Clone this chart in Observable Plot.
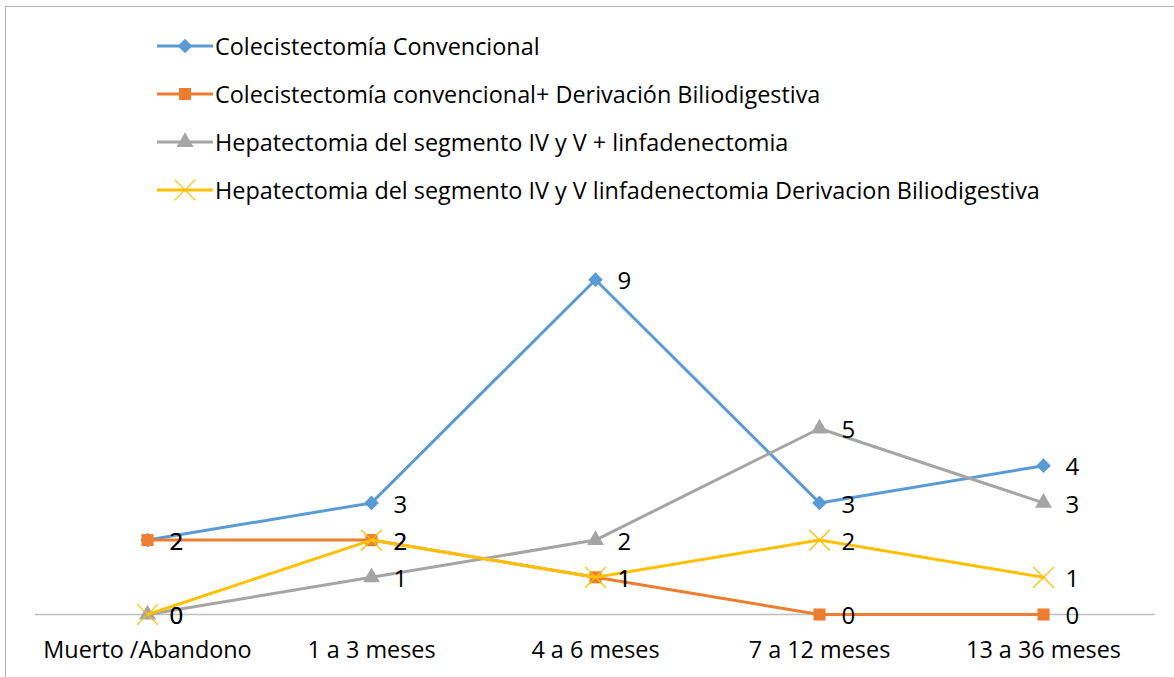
<!DOCTYPE html>
<html>
<head>
<meta charset="utf-8">
<script src="https://cdn.jsdelivr.net/npm/d3@7"></script>
<script src="https://cdn.jsdelivr.net/npm/@observablehq/plot@0.6"></script>
<style>
  html, body { margin: 0; padding: 0; background: #fff; width: 1174px; height: 677px; overflow: hidden; }
  #frame { position: absolute; left: 5px; top: 6px; width: 1200px; height: 700px; border: 1.5px solid #b4b4b4; box-sizing: border-box; }
  #legend { position: absolute; left: 157px; top: 30px; font-family: "Open Sans", Lato, sans-serif; font-size: 23.4px; color: #000; }
  .row { position: absolute; left: 0; height: 32px; display: flex; align-items: center; white-space: nowrap; }
  .row svg { display: block; margin-right: 2px; }
  #chart { position: absolute; left: 0; top: 220px; }
</style>
</head>
<body>
<div id="frame"></div>
<div id="legend"></div>
<div id="chart"></div>
<script>
const categories = ["Muerto /Abandono", "1 a 3 meses", "4 a 6 meses", "7 a 12 meses", "13 a 36 meses"];
const seriesNames = [
  "Colecistectomía Convencional",
  "Colecistectomía convencional+ Derivación Biliodigestiva",
  "Hepatectomia del segmento IV y V + linfadenectomia",
  "Hepatectomia del segmento IV y V linfadenectomia Derivacion Biliodigestiva"
];
const convencional = [2, 3, 9, 3, 4];
const convencionalDerivacion = [2, 2, 1, 0, 0];
const hepatectomiaLinf = [0, 1, 2, 5, 3];
const hepatectomiaDerivacion = [0, 2, 1, 2, 1];

const colors = ["#5B9BD5", "#ED7D31", "#A5A5A5", "#FFC000"];
const symbols = ["diamond2", "square", "triangle", "times"];
const radii = [6.6, 6.8, 6.3, 9.5];
const allValues = [convencional, convencionalDerivacion, hepatectomiaLinf, hepatectomiaDerivacion];

const series = seriesNames.map((name, i) => ({
  name, color: colors[i], symbol: symbols[i], r: radii[i],
  data: categories.map((c, j) => ({cat: c, value: allValues[i][j], series: name}))
}));

// Legend (HTML)
const legend = document.getElementById("legend");
const d3sym = {diamond2: d3.symbolDiamond2, square: d3.symbolSquare, triangle: d3.symbolTriangle, times: d3.symbolTimes};
series.forEach((s, i) => {
  const row = document.createElement("div");
  row.className = "row";
  row.style.top = (i * 48) + "px";
  const sw = d3.create("svg").attr("width", 56).attr("height", 32);
  sw.append("line").attr("x1", 0).attr("x2", 56).attr("y1", 16).attr("y2", 16)
    .attr("stroke", s.color).attr("stroke-width", 3);
  const p = sw.append("path").attr("d", d3.symbol(d3sym[s.symbol], Math.PI * s.r * s.r)()).attr("transform", "translate(28,16)");
  if (s.symbol === "times") p.attr("fill", "none").attr("stroke", s.color).attr("stroke-width", 1.3);
  else p.attr("fill", s.color);
  row.appendChild(sw.node());
  const t = document.createElement("span");
  t.textContent = s.name;
  row.appendChild(t);
  legend.appendChild(row);
});

// Chart
const marks = [Plot.ruleY([0], {stroke: "#bfbfbf", strokeWidth: 1.3})];
series.forEach(s => {
  marks.push(Plot.line(s.data, {x: "cat", y: "value", stroke: s.color, strokeWidth: 3}));
  if (s.symbol === "times") {
    marks.push(Plot.dot(s.data, {x: "cat", y: "value", symbol: "times", r: s.r, stroke: s.color, strokeWidth: 1.3, fill: "none"}));
  } else {
    marks.push(Plot.dot(s.data, {x: "cat", y: "value", symbol: s.symbol, r: s.r, fill: s.color, stroke: "none"}));
  }
});
series.forEach(s => {
  marks.push(Plot.text(s.data, {x: "cat", y: "value", text: d => String(d.value), dx: 22, dy: 2, textAnchor: "start", fill: "#000", fontSize: 24}));
});
marks.push(Plot.axisX({tickSize: 0, tickPadding: 27, fontSize: 23.4, label: null, fill: "#000"}));

const chart = Plot.plot({
  width: 1174,
  height: 457,
  marginTop: 22,
  marginBottom: 63,
  marginLeft: 35,
  marginRight: 19,
  style: {fontFamily: "'Open Sans', Lato, sans-serif", fontSize: "23.4px", color: "#000", background: "transparent", overflow: "visible"},
  x: {type: "point", domain: categories, padding: 0.5, label: null},
  y: {domain: [0, 10], axis: null},
  marks
});
document.getElementById("chart").appendChild(chart);
</script>
</body>
</html>
